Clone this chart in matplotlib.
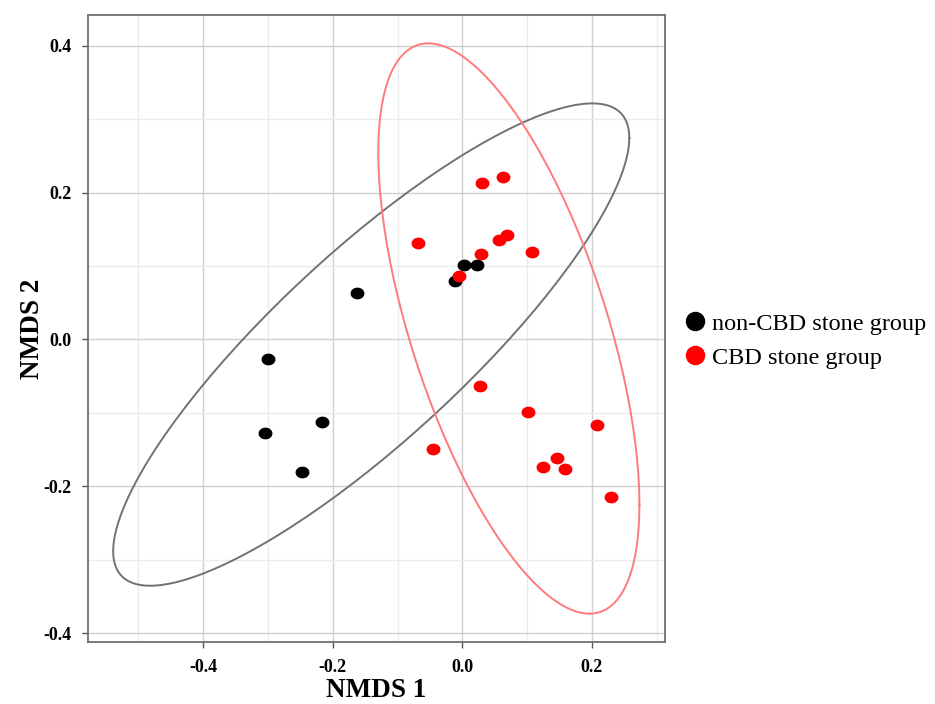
import numpy as np
import matplotlib.pyplot as plt
from matplotlib.path import Path
from matplotlib.lines import Line2D

# NMDS scores
non_cbd_x = [-0.300, -0.304, -0.247, -0.216, -0.162, -0.011, 0.003, 0.022]
non_cbd_y = [-0.027, -0.128, -0.181, -0.112, 0.064, 0.079, 0.101, 0.102]

cbd_x = [-0.068, -0.005, 0.029, 0.031, 0.063, 0.056, 0.069, 0.108,
         0.028, -0.045, 0.102, 0.208, 0.146, 0.125, 0.158, 0.230]
cbd_y = [0.132, 0.087, 0.117, 0.213, 0.221, 0.136, 0.143, 0.119,
         -0.063, -0.149, -0.099, -0.116, -0.161, -0.174, -0.177, -0.215]

# ellipses: centre x, centre y, half x-extent, half y-extent, phase shift
non_cbd_ell = [-0.1406, -0.0069, 0.3985, 0.3285, np.arccos(0.8567)]
cbd_ell = [0.0719, 0.0150, 0.2016, 0.3884, np.arccos(-0.6171)]

labels = ['non-CBD stone group', 'CBD stone group']
serif = ['Liberation Serif', 'DejaVu Serif']


def ellipse_xy(p, n=200):
    t = np.linspace(0, 2 * np.pi, n)
    return p[0] + p[2] * np.cos(t), p[1] + p[3] * np.cos(t - p[4])


# slightly wide dot, like the reference
th = np.linspace(0, 2 * np.pi, 40)
dot = Path(np.column_stack([1.18 * np.cos(th), np.sin(th)]))

fig = plt.figure(figsize=(9.35, 7.04), dpi=100)
ax = fig.add_axes([0.0941, 0.0881, 0.6171, 0.8906])

ax.set_xlim(-0.578, 0.313)
ax.set_ylim(-0.412, 0.442)
ax.set_xticks([-0.4, -0.2, 0.0, 0.2])
ax.set_yticks([-0.4, -0.2, 0.0, 0.2, 0.4])
ax.set_xticks([-0.5, -0.3, -0.1, 0.1, 0.3], minor=True)
ax.set_yticks([-0.3, -0.1, 0.1, 0.3], minor=True)
ax.grid(which='major', color='#d0d0d0', lw=1.0)
ax.grid(which='minor', color='#ebebeb', lw=1.0)
ax.set_axisbelow(True)
ax.tick_params(which='minor', length=0)
ax.tick_params(which='major', length=4, width=1, color='#555555', pad=8)
for s in ax.spines.values():
    s.set_color('#6f6f6f')
    s.set_linewidth(1.3)

ex, ey = ellipse_xy(non_cbd_ell)
ax.plot(ex, ey, color='#727272', lw=1.4)
ex, ey = ellipse_xy(cbd_ell)
ax.plot(ex, ey, color='#ff7b7b', lw=1.4)

ax.scatter(non_cbd_x, non_cbd_y, marker=dot, s=100, color='black', lw=0, zorder=3)
ax.scatter(cbd_x, cbd_y, marker=dot, s=100, color='#ff0000', lw=0, zorder=3)

ax.set_xticklabels(['-0.4', '-0.2', '0.0', '0.2'])
ax.set_yticklabels(['-0.4', '-0.2', '0.0', '0.2', '0.4'])
for lab in ax.get_xticklabels() + ax.get_yticklabels():
    lab.set_family(serif)
    lab.set_fontweight('bold')
    lab.set_fontsize(13)
ax.set_xlabel('NMDS 1', family=serif, fontweight='bold', fontsize=19.5, labelpad=2)
ax.set_ylabel('NMDS 2', family=serif, fontweight='bold', fontsize=19.5, labelpad=-1)

handles = [Line2D([], [], ls='', marker='o', ms=13, color=c) for c in ['black', '#ff0000']]
fig.legend(handles, labels, loc='center left', bbox_to_anchor=(0.706, 0.516),
           frameon=False, prop={'family': serif, 'size': 17.5},
           handletextpad=0.15, labelspacing=0.5, handlelength=1.1)

fig.savefig('out.png', dpi=100)
